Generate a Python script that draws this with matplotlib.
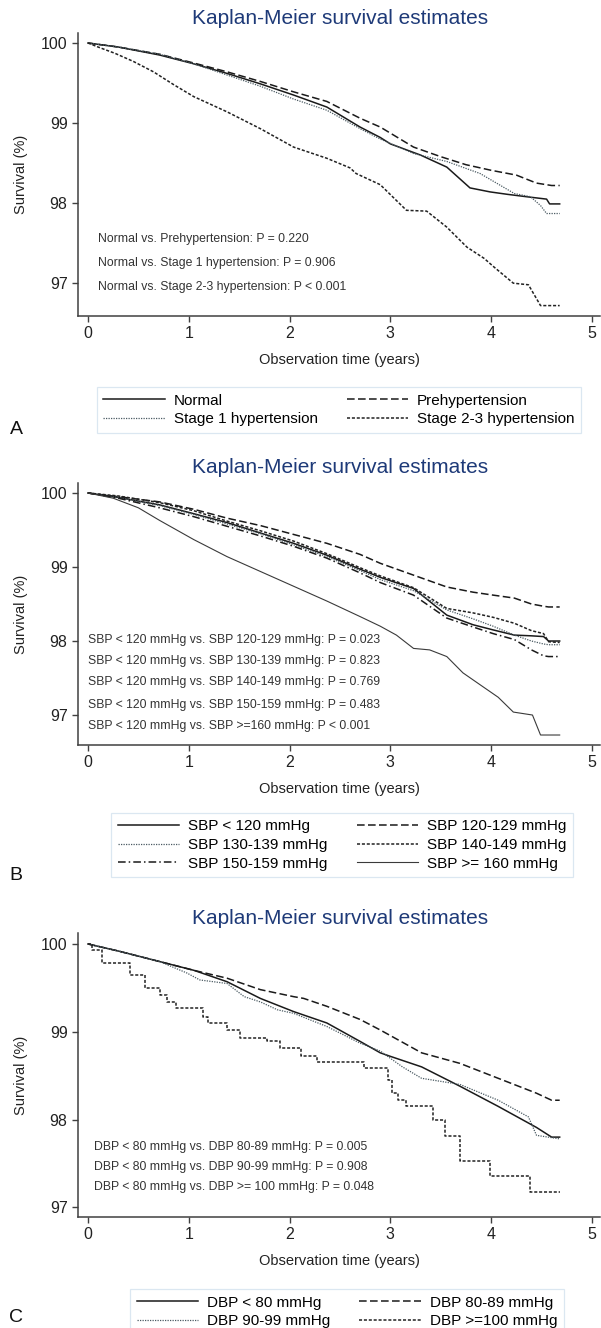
import numpy as np
import matplotlib.pyplot as plt

plt.rcParams['font.family'] = ['Liberation Sans', 'DejaVu Sans']

# ---------------- data ----------------
# panel A
a_normal_t = [0, 0.3, 0.71, 1.05, 1.38, 1.71, 2.04, 2.37, 2.7, 2.9, 3.0, 3.3, 3.56, 3.79, 3.99, 4.16, 4.35, 4.55, 4.58, 4.68]
a_normal_s = [100, 99.95, 99.85, 99.74, 99.62, 99.49, 99.35, 99.2, 98.95, 98.82, 98.74, 98.6, 98.45, 98.19, 98.14, 98.11, 98.08, 98.05, 97.99, 97.99]
a_pre_t = [0, 0.3, 0.71, 1.05, 1.38, 1.71, 2.04, 2.37, 2.7, 2.9, 3.23, 3.5, 3.75, 4.0, 4.25, 4.45, 4.6, 4.68]
a_pre_s = [100, 99.95, 99.86, 99.75, 99.64, 99.52, 99.39, 99.27, 99.06, 98.95, 98.7, 98.58, 98.48, 98.41, 98.35, 98.25, 98.22, 98.22]
a_st1_t = [0, 0.3, 0.71, 1.05, 1.38, 1.71, 2.04, 2.37, 2.7, 2.9, 3.23, 3.56, 3.89, 4.23, 4.39, 4.49, 4.55, 4.68]
a_st1_s = [100, 99.95, 99.86, 99.74, 99.6, 99.46, 99.3, 99.16, 98.93, 98.8, 98.62, 98.52, 98.37, 98.12, 98.08, 97.97, 97.87, 97.87]
a_st23_t = [0, 0.1, 0.27, 0.45, 0.65, 0.85, 1.05, 1.38, 1.71, 2.04, 2.37, 2.6, 2.66, 2.9, 3.16, 3.36, 3.56, 3.76, 3.93, 4.03, 4.22, 4.37, 4.49, 4.68]
a_st23_s = [100, 99.95, 99.87, 99.77, 99.64, 99.48, 99.33, 99.14, 98.93, 98.7, 98.56, 98.44, 98.37, 98.23, 97.91, 97.9, 97.7, 97.45, 97.31, 97.2, 97.0, 96.98, 96.72, 96.72]
a_labels = ["Normal", "Prehypertension", "Stage 1 hypertension", "Stage 2-3 hypertension"]
a_notes = ["Normal vs. Prehypertension: P = 0.220",
           "Normal vs. Stage 1 hypertension: P = 0.906",
           "Normal vs. Stage 2-3 hypertension: P < 0.001"]

# panel B
b_t = [0, 0.3, 0.71, 1.05, 1.38, 1.71, 2.04, 2.37, 2.7, 2.9, 3.23, 3.56, 3.82, 4.02, 4.23, 4.4, 4.52, 4.57, 4.68]
b_lt120 = [100, 99.94, 99.84, 99.72, 99.6, 99.46, 99.32, 99.16, 98.97, 98.86, 98.71, 98.35, 98.22, 98.15, 98.08, 98.07, 98.06, 98.0, 98.0]
b_120 = [100, 99.95, 99.88, 99.78, 99.66, 99.56, 99.44, 99.32, 99.17, 99.05, 98.89, 98.73, 98.66, 98.62, 98.58, 98.5, 98.47, 98.46, 98.46]
b_130 = [100, 99.94, 99.83, 99.71, 99.58, 99.45, 99.3, 99.14, 98.95, 98.83, 98.68, 98.42, 98.3, 98.2, 98.08, 98.0, 97.96, 97.95, 97.95]
b_140 = [100, 99.96, 99.87, 99.76, 99.62, 99.49, 99.35, 99.18, 98.99, 98.88, 98.72, 98.44, 98.38, 98.32, 98.24, 98.14, 98.1, 97.99, 97.98]
b_150 = [100, 99.93, 99.8, 99.68, 99.55, 99.42, 99.28, 99.12, 98.92, 98.79, 98.62, 98.31, 98.19, 98.1, 98.02, 97.88, 97.8, 97.79, 97.79]
b_160_t = [0, 0.25, 0.5, 0.71, 1.05, 1.38, 1.71, 2.04, 2.37, 2.7, 2.9, 3.06, 3.23, 3.39, 3.56, 3.72, 3.9, 4.07, 4.22, 4.41, 4.49, 4.68]
b_160_s = [100, 99.93, 99.8, 99.63, 99.37, 99.14, 98.94, 98.74, 98.54, 98.33, 98.2, 98.08, 97.9, 97.88, 97.79, 97.57, 97.4, 97.24, 97.04, 97.0, 96.73, 96.73]
b_labels = ["SBP < 120 mmHg", "SBP 120-129 mmHg", "SBP 130-139 mmHg",
            "SBP 140-149 mmHg", "SBP 150-159 mmHg", "SBP >= 160 mmHg"]
b_notes = ["SBP < 120 mmHg vs. SBP 120-129 mmHg: P = 0.023",
           "SBP < 120 mmHg vs. SBP 130-139 mmHg: P = 0.823",
           "SBP < 120 mmHg vs. SBP 140-149 mmHg: P = 0.769",
           "SBP < 120 mmHg vs. SBP 150-159 mmHg: P = 0.483",
           "SBP < 120 mmHg vs. SBP >=160 mmHg: P < 0.001"]

# panel C
c_lt80_t = [0, 0.3, 0.71, 1.05, 1.38, 1.71, 2.04, 2.37, 2.7, 2.9, 3.0, 3.31, 3.69, 4.07, 4.45, 4.6, 4.68]
c_lt80_s = [100, 99.92, 99.8, 99.7, 99.57, 99.38, 99.23, 99.1, 98.89, 98.76, 98.72, 98.6, 98.38, 98.15, 97.91, 97.8, 97.8]
c_80_t = [0, 0.3, 0.71, 1.05, 1.38, 1.71, 2.04, 2.14, 2.37, 2.7, 2.9, 3.31, 3.69, 4.07, 4.45, 4.6, 4.68]
c_80_s = [100, 99.92, 99.8, 99.7, 99.61, 99.48, 99.4, 99.38, 99.29, 99.14, 99.02, 98.76, 98.64, 98.47, 98.3, 98.22, 98.22]
c_90_t = [0, 0.3, 0.71, 0.98, 1.11, 1.38, 1.55, 1.71, 1.88, 2.04, 2.37, 2.7, 2.9, 3.12, 3.31, 3.69, 4.07, 4.37, 4.45, 4.68]
c_90_s = [100, 99.92, 99.8, 99.67, 99.59, 99.55, 99.4, 99.34, 99.25, 99.21, 99.06, 98.87, 98.78, 98.6, 98.47, 98.4, 98.22, 98.03, 97.82, 97.78]
c_100_t = [0, 0.04, 0.14, 0.42, 0.57, 0.71, 0.78, 0.87, 1.14, 1.19, 1.38, 1.51, 1.78, 1.91, 2.11, 2.27, 2.74, 2.98, 3.02, 3.08, 3.16, 3.42, 3.54, 3.69, 3.99, 4.39, 4.68]
c_100_s = [100, 99.93, 99.78, 99.65, 99.5, 99.42, 99.34, 99.27, 99.17, 99.1, 99.02, 98.93, 98.89, 98.81, 98.72, 98.65, 98.59, 98.45, 98.3, 98.22, 98.15, 98.0, 97.81, 97.53, 97.36, 97.17, 97.17]
c_labels = ["DBP < 80 mmHg", "DBP 80-89 mmHg", "DBP 90-99 mmHg", "DBP >=100 mmHg"]
c_notes = ["DBP < 80 mmHg vs. DBP 80-89 mmHg: P = 0.005",
           "DBP < 80 mmHg vs. DBP 90-99 mmHg: P = 0.908",
           "DBP < 80 mmHg vs. DBP >= 100 mmHg: P = 0.048"]

# ---------------- styles ----------------
SOLID = dict(ls='-', lw=1.1, color='#1a1a1a')
DASH = dict(ls=(0, (5, 2.2)), lw=1.1, color='#1a1a1a')
FINE = dict(ls=(0, (1, 1)), lw=0.9, color='#4a5a62')
COARSE = dict(ls=(0, (2, 1.2)), lw=1.1, color='#222222')
DASHDOT = dict(ls=(0, (5, 2, 1, 2)), lw=1.1, color='#1a1a1a')
THIN = dict(ls='-', lw=0.8, color='#3a3a3a')

W, H = 601, 1328
fig = plt.figure(figsize=(W / 100, H / 100), dpi=100)
fig.patch.set_facecolor('white')

def px_ax(top, bottom, left=78, right=600):
    return fig.add_axes([left / W, 1 - bottom / H, (right - left) / W, (bottom - top) / H])

def style_ax(ax, ylim):
    ax.set_xlim(-0.099, 5.08)
    ax.set_ylim(*ylim)
    ax.set_xticks([0, 1, 2, 3, 4, 5])
    ax.set_yticks([97, 98, 99, 100])
    for s in ['top', 'right']:
        ax.spines[s].set_visible(False)
    for s in ['left', 'bottom']:
        ax.spines[s].set_color('#404040')
        ax.spines[s].set_linewidth(1.1)
    ax.tick_params(direction='out', length=4, width=1, color='#404040',
                   labelsize=11.5, labelcolor='#222222')
    ax.set_xlabel("Observation time (years)", fontsize=10.5, color='#222222', labelpad=8)
    ax.set_ylabel("Survival (%)", fontsize=10.5, color='#222222', labelpad=9)
    ax.set_facecolor('white')

def title(ycenter):
    fig.text(340 / W, 1 - ycenter / H, "Kaplan-Meier survival estimates",
             ha='center', va='center', fontsize=15, color='#1e3a78')

def panel_letter(txt, ycenter):
    fig.text(16 / W, 1 - ycenter / H, txt, ha='center', va='center', fontsize=14, color='#111111')

def legend(handles, labels, xc, yc, loc):
    # row-wise fill for a 2 column legend
    handles = handles[0::2] + handles[1::2]
    labels = labels[0::2] + labels[1::2]
    lg = fig.legend(handles, labels, ncol=2, loc=loc, bbox_to_anchor=(xc / W, 1 - yc / H),
                    fontsize=11, handlelength=4.0, handletextpad=0.6, columnspacing=1.9,
                    labelspacing=0.3, borderpad=0.45, fancybox=False, frameon=True)
    fr = lg.get_frame()
    fr.set_edgecolor('#d3e2ee')
    fr.set_linewidth(0.9)
    return lg

# ---------------- panel A ----------------
axA = px_ax(33, 316)
style_ax(axA, (96.59, 100.125))
hA = [axA.plot(a_normal_t, a_normal_s, **SOLID)[0],
      axA.plot(a_pre_t, a_pre_s, **DASH)[0],
      axA.plot(a_st1_t, a_st1_s, **FINE)[0],
      axA.plot(a_st23_t, a_st23_s, **COARSE)[0]]
for i, note in enumerate(a_notes):
    axA.text(0.1, 97.55 - 0.3 * i, note, fontsize=8.8, color='#333333', va='center')
title(18)
legend(hA, a_labels, 339, 410, 'center')
panel_letter("A", 430)

# ---------------- panel B ----------------
axB = px_ax(483, 745)
style_ax(axB, (96.595, 100.135))
hB = [axB.plot(b_t, b_lt120, **SOLID)[0],
      axB.plot(b_t, b_120, **DASH)[0],
      axB.plot(b_t, b_130, **FINE)[0],
      axB.plot(b_t, b_140, **COARSE)[0],
      axB.plot(b_t, b_150, **DASHDOT)[0],
      axB.plot(b_160_t, b_160_s, **THIN)[0]]
for note, y in zip(b_notes, [98.01, 97.73, 97.45, 97.14, 96.85]):
    axB.text(0.0, y, note, fontsize=8.8, color='#333333', va='center')
title(468)
legend(hB, b_labels, 342, 845, 'center')
panel_letter("B", 876)

# ---------------- panel C ----------------
axC = px_ax(933, 1217)
style_ax(axC, (96.89, 100.125))
hC = [axC.plot(c_lt80_t, c_lt80_s, **SOLID)[0],
      axC.plot(c_80_t, c_80_s, **DASH)[0],
      axC.plot(c_90_t, c_90_s, **FINE)[0],
      axC.plot(c_100_t, c_100_s, drawstyle='steps-post', **COARSE)[0]]
for i, note in enumerate(c_notes):
    axC.text(0.06, 97.69 - 0.23 * i, note, fontsize=8.8, color='#333333', va='center')
title(918)
legend(hC, c_labels, 347, 1281, 'upper center')
panel_letter("C", 1318)

fig.savefig("out.png", dpi=100, facecolor='white')
